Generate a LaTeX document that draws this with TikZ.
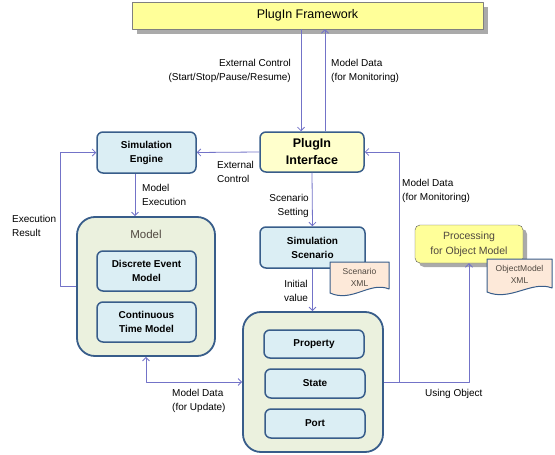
\documentclass[tikz,border=0pt]{standalone}
\usepackage{fontspec}
\setmainfont{Liberation Sans}
\usetikzlibrary{arrows.meta,shadows}
\definecolor{bordblue}{RGB}{56,93,138}
\definecolor{boxblue}{RGB}{219,238,244}
\definecolor{grpgreen}{RGB}{235,241,222}
\definecolor{ifyellow}{RGB}{255,255,204}
\definecolor{fwyellow}{RGB}{255,255,153}
\definecolor{docpeach}{RGB}{253,233,217}
\definecolor{linkcol}{RGB}{115,115,200}
\definecolor{shadowgray}{RGB}{170,170,170}
\definecolor{softtext}{RGB}{80,72,64}
\begin{document}
\begin{tikzpicture}[x=1pt,y=-1pt,>={Straight Barb[length=3.5pt,width=7pt]},
    line join=round,
    blk/.style={draw=bordblue,line width=1.5pt,fill=boxblue,rounded corners=6pt,
      align=center,inner sep=0pt,font=\fontsize{10}{14}\selectfont\bfseries},
    grp/.style={draw=bordblue,line width=1.8pt,fill=grpgreen,rounded corners=18pt,inner sep=0pt},
    link/.style={draw=linkcol,line width=0.8pt},
    lbl/.style={font=\fontsize{10}{14}\selectfont,inner sep=0pt},
    docu/.style={draw=bordblue,line width=1pt,fill=docpeach},
    doctxt/.style={font=\fontsize{8.5}{12}\selectfont,text=softtext,align=center,inner sep=0pt},
    flat/.style={drop shadow={shadow xshift=5pt,shadow yshift=-5pt,fill=shadowgray,opacity=1}}]
    \useasboundingbox (0,0) rectangle (555,455);
    % top level
    \node[flat,draw=gray,fill=fwyellow,minimum width=351pt,minimum height=27pt,
      font=\fontsize{12.5}{14}\selectfont] (fw) at (307.5,15.5) {PlugIn Framework};
    \node[blk,fill=ifyellow,minimum width=104pt,minimum height=40pt,
      font=\fontsize{12.5}{17}\selectfont\bfseries] (pif) at (312,152) {PlugIn\\Interface};
    \node[blk,minimum width=99pt,minimum height=41pt] (eng) at (146.5,152.5) {Simulation\\Engine};
    \node[blk,minimum width=105pt,minimum height=41pt] (scen) at (312.5,247.5) {Simulation\\Scenario};
    % model group
    \node[grp,minimum width=138pt,minimum height=139pt] (model) at (146,286.5) {};
    \node[font=\fontsize{11.5}{14}\selectfont,text=softtext] (mlabel) at (146,234) {Model};
    \node[blk,minimum width=99pt,minimum height=40pt] (dem) at (146.5,271) {Discrete Event\\Model};
    \node[blk,minimum width=99pt,minimum height=40pt] (ctm) at (146.5,322) {Continuous\\Time Model};
    % object group
    \node[grp,minimum width=140pt,minimum height=140pt] (obj) at (313,382) {};
    \node[blk,minimum width=100pt,minimum height=28pt] (prop) at (314,344) {Property};
    \node[blk,minimum width=100pt,minimum height=29pt] (state) at (315,383.5) {State};
    \node[blk,minimum width=100pt,minimum height=29pt] (port) at (315,423.5) {Port};
    % processing
    \node[drop shadow={shadow xshift=4pt,shadow yshift=-4pt,fill=shadowgray,opacity=1},
      draw=gray!70!black,fill=fwyellow,rounded corners=5pt,minimum width=108pt,minimum height=38pt,
      align=center,inner sep=0pt,font=\fontsize{10.5}{15}\selectfont,text=softtext] (proc) at (469,244)
      {Processing\\for Object Model};
    % documents
    \draw[docu] (330,262) -- (389,262) -- (389,289) .. controls (370,281) and (352,303) .. (330,293) -- cycle;
    \node[doctxt] (scenxml) at (359.5,277) {Scenario\\XML};
    \draw[docu] (487,259) -- (552,259) -- (552,288) .. controls (532,280) and (510,302) .. (487,292) -- cycle;
    \node[doctxt] (omxml) at (519.5,274) {ObjectModel\\XML};
    % connectors
    \draw[link,->] ([xshift=-11pt]pif.north |- fw.south) -- ([xshift=-11pt]pif.north);
    \draw[link,->] ([xshift=13pt]pif.north) -- ([xshift=13pt]pif.north |- fw.south);
    \draw[link,->] (pif.west) -- (eng.east);
    \draw[link,->] ([xshift=-11.5pt]eng.south) -- ([xshift=-11.5pt]eng.south |- model.north);
    \draw[link,->] (model.west) -- ++(-16,0) |- (eng.west);
    \draw[link,->] (pif.south) -- (scen.north);
    \draw[link,->] (scen.south) -- (scen.south |- obj.north);
    \draw[link,->] (obj.east) -- ++(15,0) |- (pif.east);
    \draw[link,->] (obj.east) -| (proc.south);
    \draw[link,<->] (model.south) |- (obj.west);
    % labels
    \node[lbl,align=right,anchor=east] (l1) at (291,70.5) {External Control\\(Start/Stop/Pause/Resume)};
    \node[lbl,align=left,anchor=west] (l2) at (331,70.5) {Model Data\\(for Monitoring)};
    \node[lbl,align=left,anchor=west] (l3) at (217,172) {External\\Control};
    \node[lbl,align=left,anchor=west] (l4) at (142,195) {Model\\Execution};
    \node[lbl,align=left,anchor=west] (l5) at (12,225.5) {Execution\\Result};
    \node[lbl,align=right,anchor=east] (l6) at (309,206) {Scenario\\Setting};
    \node[lbl,align=center] (l7) at (296,291) {Initial\\value};
    \node[lbl,align=left,anchor=west] (l8) at (402,191) {Model Data\\(for Monitoring)};
    \node[lbl,align=left,anchor=west] (l9) at (172,401) {Model Data\\(for Update)};
    \node[lbl,anchor=west] (l10) at (425,394) {Using Object};
\end{tikzpicture}
\end{document}
